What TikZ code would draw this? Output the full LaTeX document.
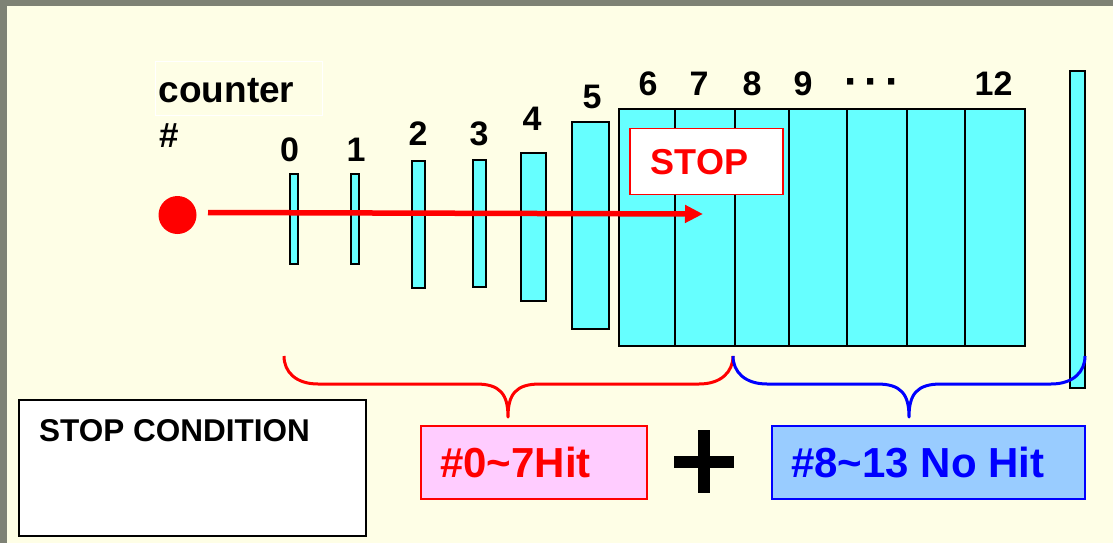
\documentclass[tikz,border=0pt]{standalone}
\usepackage{fontspec}
\setmainfont{Liberation Sans}
\usetikzlibrary{arrows.meta}
\definecolor{bgyellow}{HTML}{FEFEE6}
\definecolor{framegray}{HTML}{7E8275}
\definecolor{cyanbar}{HTML}{66FFFF}
\definecolor{pinkfill}{HTML}{FFCCFF}
\definecolor{bluefill}{HTML}{99CCFF}
\definecolor{hitred}{HTML}{FF0000}
\definecolor{hitblue}{HTML}{0000FF}
\begin{document}
\begin{tikzpicture}[x=1pt,y=-1pt,
  bar/.style={draw=black, line width=1.5pt, fill=cyanbar, inner sep=0pt, outer sep=0pt},
  cell/.style={bar, line width=2pt, minimum height=237pt},
  num/.style={font=\fontsize{34}{40}\selectfont\bfseries, inner sep=0pt, anchor=base},
  lbl/.style={inner sep=0pt, anchor=base west},
  bracered/.style={draw=hitred, line width=3pt, line join=round},
  braceblue/.style={draw=hitblue, line width=3pt, line join=round},
  textbox/.style={inner sep=0pt, outer sep=0pt}
]
\useasboundingbox (0,0) rectangle (1113,543);
\fill[framegray] (0,0) rectangle (1113,543);
\fill[bgyellow] (7,6) rectangle (1113,543);

% counter label box
\node[textbox, draw=white, line width=1pt, minimum width=167pt, minimum height=53pt] (cbox) at (238.5,88.5) {};
\node[lbl, font=\fontsize{37}{40}\selectfont\bfseries] (counter) at (158.5,102) {counter};
\node[lbl, font=\fontsize{35}{40}\selectfont\bfseries] (hash) at (159,147) {\#};

% source
\node[circle, fill=hitred, minimum size=38pt, inner sep=0pt] (dot) at (177.5,215) {};

% bars 0..5
\node[bar, minimum width=8pt, minimum height=90pt] (b0) at (294,219) {};
\node[bar, minimum width=8pt, minimum height=90pt] (b1) at (355,219) {};
\node[bar, minimum width=13pt, minimum height=127pt] (b2) at (418.5,224.5) {};
\node[bar, minimum width=13pt, minimum height=127pt] (b3) at (479.5,223.5) {};
\node[bar, minimum width=25pt, minimum height=148pt] (b4) at (533.5,227) {};
\node[bar, minimum width=37pt, minimum height=207pt] (b5) at (590.5,225.5) {};

% block 6..12
\node[cell, minimum width=56.5pt] (c6) at (646.75,227.5) {};
\node[cell, minimum width=60pt] (c7) at (705,227.5) {};
\node[cell, minimum width=54pt] (c8) at (762,227.5) {};
\node[cell, minimum width=58pt] (c9) at (818,227.5) {};
\node[cell, minimum width=60pt] (c10) at (877,227.5) {};
\node[cell, minimum width=58pt] (c11) at (936,227.5) {};
\node[cell, minimum width=59.5pt] (c12) at (994.75,227.5) {};

% right thin bar
\node[bar, minimum width=15pt, minimum height=317pt] (b13) at (1077.5,229.5) {};

% numbers
\node[num] (n0) at (289.5,161) {0};
\node[num] (n1) at (356,161) {1};
\node[num] (n2) at (418,145) {2};
\node[num] (n3) at (479,145) {3};
\node[num] (n4) at (532,130) {4};
\node[num] (n5) at (592,108) {5};
\node[num] (n6) at (648,95) {6};
\node[num] (n7) at (699,95) {7};
\node[num] (n8) at (752,95) {8};
\node[num] (n9) at (803,95) {9};
\node[num, font=\fontsize{44}{48}\selectfont\bfseries] (ndots) at (872,96) {\textperiodcentered\hspace{6pt}\textperiodcentered\hspace{6pt}\textperiodcentered};
\node[num] (n12) at (993.5,95) {12};

% STOP box
\node[textbox, draw=hitred, line width=1.5pt, fill=white, minimum width=152.7pt, minimum height=66pt] (stopbox) at (706.4,161.3) {};
\node[lbl, text=hitred, font=\fontsize{36}{40}\selectfont\bfseries] (stoptxt) at (650.5,174) {STOP};

% arrow
\coordinate (astart) at (208,212.5);
\coordinate (aend) at (703,214);
\draw[hitred, line width=5.5pt, -{Triangle[length=18pt,width=17pt]}] (astart) -- (aend);

% braces
\draw[bracered] (284,356) .. controls (284,372) and (296,384) .. (318,384) -- (476,384)
  .. controls (500,384) and (508,394) .. (508,417)
  .. controls (508,394) and (516,384) .. (540,384) -- (699,384)
  .. controls (721,384) and (733,372) .. (733,356);
\draw[braceblue] (733,356) .. controls (733,372) and (745,384) .. (767,384) -- (877,384)
  .. controls (901,384) and (909,394) .. (909,417)
  .. controls (909,394) and (917,384) .. (941,384) -- (1051,384)
  .. controls (1073,384) and (1085,372) .. (1085,356);

% STOP CONDITION box
\node[textbox, draw=black, line width=2pt, fill=white, minimum width=347pt, minimum height=136pt] (condbox) at (192.5,468) {};
\node[lbl, font=\fontsize{31.5}{36}\selectfont\bfseries] (condtxt) at (39,441) {STOP CONDITION};

% hit boxes
\node[textbox, draw=hitred, line width=2.5pt, fill=pinkfill, minimum width=226pt, minimum height=73pt] (hitbox) at (534,462.5) {};
\node[lbl, text=hitred, font=\fontsize{42}{46}\selectfont\bfseries] (hittxt) at (440,477) {\#0\textasciitilde 7Hit};
\node[textbox, draw=hitblue, line width=2.5pt, fill=bluefill, minimum width=313pt, minimum height=73pt] (nohitbox) at (928.5,462.5) {};
\node[lbl, text=hitblue, font=\fontsize{42}{46}\selectfont\bfseries] (nohittxt) at (791,477) {\#8\textasciitilde 13 No Hit};

% plus sign
\draw[black, line width=12pt] (674,461.5) -- (734,461.5);
\draw[black, line width=12pt] (704,430) -- (704,493);
\end{tikzpicture}
\end{document}
